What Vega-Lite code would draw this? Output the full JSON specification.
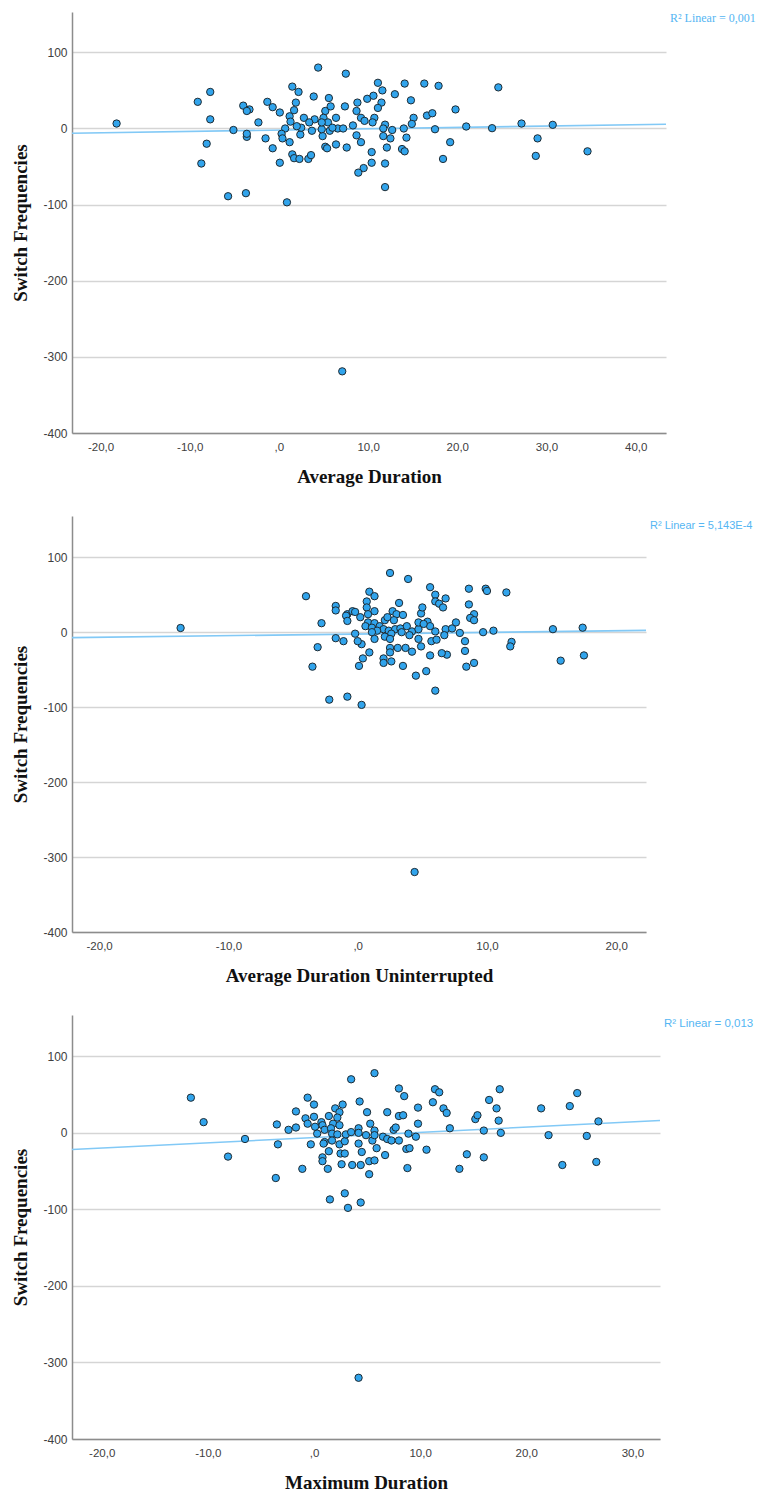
{
  "$schema": "https://vega.github.io/schema/vega-lite/v6.json",
  "padding": {"left": 11, "top": 12, "right": 0, "bottom": 0},
  "spacing": 29,
  "config": {
    "view": {"stroke": null},
    "font": "Liberation Sans",
    "axis": {
      "domainColor": "#8c8c8c",
      "domainWidth": 1.5,
      "ticks": false,
      "tickSize": 0,
      "labelColor": "#404040",
      "labelFont": "Liberation Sans",
      "labelFontSize": 12,
      "titleFont": "Liberation Serif",
      "titleFontWeight": "bold",
      "titleFontSize": 19,
      "titleColor": "#111111",
      "gridColor": "#d5d5d5",
      "gridWidth": 1.6
    },
    "axisX": {"grid": false, "labelPadding": 8, "titlePadding": 15, "labelFontSize": 11.5, "labelFlush": false},
    "axisY": {"grid": true, "labelPadding": 5, "titlePadding": 12, "labelFlush": false},
    "circle": {"size": 54, "fill": "#31a4ec", "stroke": "#1e2b33", "strokeWidth": 1, "opacity": 1},
    "line": {"color": "#82c9f6", "strokeWidth": 1.6},
    "text": {"color": "#55b6f3", "align": "left", "baseline": "middle", "dx": 4}
  },
  "datasets": {
    "avg": [
      {"duration": 4.4, "switches": 80}, {"duration": 7.5, "switches": 72}, {"duration": 1.5, "switches": 55}, {"duration": 2.2, "switches": 48},
      {"duration": -7.7, "switches": 48}, {"duration": -9.1, "switches": 35}, {"duration": -4.0, "switches": 30}, {"duration": -3.3, "switches": 25},
      {"duration": -3.6, "switches": 23}, {"duration": -1.3, "switches": 35}, {"duration": -0.7, "switches": 28}, {"duration": 0.1, "switches": 21},
      {"duration": 1.9, "switches": 34}, {"duration": 1.7, "switches": 24}, {"duration": 1.2, "switches": 16}, {"duration": 1.3, "switches": 9},
      {"duration": 2.8, "switches": 14}, {"duration": 3.9, "switches": 42}, {"duration": 5.6, "switches": 40}, {"duration": 5.2, "switches": 23},
      {"duration": 5.8, "switches": 29}, {"duration": 5.0, "switches": 14}, {"duration": 4.0, "switches": 12}, {"duration": 3.4, "switches": 8},
      {"duration": 5.5, "switches": 8}, {"duration": 6.4, "switches": 14}, {"duration": 7.4, "switches": 29}, {"duration": 8.8, "switches": 34},
      {"duration": 8.7, "switches": 23}, {"duration": 9.2, "switches": 14}, {"duration": 9.9, "switches": 39}, {"duration": 10.6, "switches": 43},
      {"duration": 11.1, "switches": 60}, {"duration": 11.6, "switches": 50}, {"duration": 11.5, "switches": 34}, {"duration": 11.1, "switches": 27},
      {"duration": 10.7, "switches": 14}, {"duration": 9.6, "switches": 10}, {"duration": 10.5, "switches": 8}, {"duration": 8.3, "switches": 4},
      {"duration": 13.0, "switches": 45}, {"duration": 14.1, "switches": 59}, {"duration": 14.8, "switches": 37}, {"duration": 16.3, "switches": 59},
      {"duration": 17.9, "switches": 56}, {"duration": 15.1, "switches": 14}, {"duration": 16.6, "switches": 17}, {"duration": 17.2, "switches": 20},
      {"duration": 14.9, "switches": 6}, {"duration": 14.0, "switches": 0}, {"duration": 17.5, "switches": -1}, {"duration": 19.8, "switches": 25},
      {"duration": 11.9, "switches": 5}, {"duration": 11.7, "switches": 0}, {"duration": 12.7, "switches": -2}, {"duration": 11.7, "switches": -10},
      {"duration": 12.5, "switches": -13}, {"duration": 14.3, "switches": -12}, {"duration": 12.1, "switches": -25}, {"duration": 13.8, "switches": -27},
      {"duration": 14.1, "switches": -30}, {"duration": 10.4, "switches": -31}, {"duration": 10.4, "switches": -45}, {"duration": 11.9, "switches": -46},
      {"duration": 9.5, "switches": -52}, {"duration": 8.9, "switches": -58}, {"duration": 11.9, "switches": -77}, {"duration": 19.2, "switches": -18},
      {"duration": 18.4, "switches": -40}, {"duration": 8.7, "switches": -9}, {"duration": 9.2, "switches": -18}, {"duration": 7.6, "switches": -25},
      {"duration": 6.4, "switches": -21}, {"duration": 5.2, "switches": -24}, {"duration": 5.4, "switches": -26}, {"duration": 4.9, "switches": -10},
      {"duration": 5.7, "switches": -3}, {"duration": 6.6, "switches": 0}, {"duration": 7.2, "switches": 0}, {"duration": 4.8, "switches": -1},
      {"duration": 3.7, "switches": -3}, {"duration": 2.4, "switches": -8}, {"duration": 2.5, "switches": 1}, {"duration": 2.0, "switches": 3},
      {"duration": 0.7, "switches": 0}, {"duration": 0.3, "switches": -7}, {"duration": 0.4, "switches": -13}, {"duration": 1.2, "switches": -18},
      {"duration": 1.5, "switches": -34}, {"duration": 1.7, "switches": -39}, {"duration": 2.3, "switches": -40}, {"duration": 3.3, "switches": -40},
      {"duration": 3.6, "switches": -35}, {"duration": 0.1, "switches": -45}, {"duration": -0.7, "switches": -26}, {"duration": -1.5, "switches": -13},
      {"duration": -2.3, "switches": 8}, {"duration": -3.6, "switches": -11}, {"duration": -3.6, "switches": -7}, {"duration": -5.1, "switches": -2},
      {"duration": -7.7, "switches": 12}, {"duration": -8.1, "switches": -20}, {"duration": -8.7, "switches": -46}, {"duration": -5.7, "switches": -89},
      {"duration": -3.7, "switches": -85}, {"duration": 0.9, "switches": -97}, {"duration": 4.8, "switches": 8}, {"duration": 6.0, "switches": 1},
      {"duration": 21.0, "switches": 2.6}, {"duration": 23.9, "switches": 0.4}, {"duration": 27.2, "switches": 6.5}, {"duration": 30.7, "switches": 4.8},
      {"duration": 29.0, "switches": -13}, {"duration": 28.8, "switches": -36}, {"duration": 34.6, "switches": -30}, {"duration": 24.6, "switches": 54},
      {"duration": -18.2, "switches": 6.5}, {"duration": 7.1, "switches": -319}
    ],
    "uninterrupted": [
      {"duration": 2.5, "switches": 79}, {"duration": 3.9, "switches": 71}, {"duration": -4.0, "switches": 48}, {"duration": 0.9, "switches": 54},
      {"duration": 1.3, "switches": 48}, {"duration": 0.7, "switches": 41}, {"duration": 0.7, "switches": 33}, {"duration": -1.7, "switches": 35},
      {"duration": -1.7, "switches": 29}, {"duration": -0.8, "switches": 24}, {"duration": -0.9, "switches": 22}, {"duration": -0.4, "switches": 28},
      {"duration": -0.2, "switches": 27}, {"duration": -0.8, "switches": 15}, {"duration": 0.2, "switches": 20}, {"duration": 0.8, "switches": 24},
      {"duration": 1.3, "switches": 28}, {"duration": -2.8, "switches": 12}, {"duration": 0.8, "switches": 13}, {"duration": 1.3, "switches": 12},
      {"duration": 0.6, "switches": 8}, {"duration": 1.1, "switches": 6}, {"duration": 1.7, "switches": 8}, {"duration": 2.1, "switches": 16},
      {"duration": 2.7, "switches": 28}, {"duration": 3.2, "switches": 39}, {"duration": 3.0, "switches": 24}, {"duration": 3.5, "switches": 23},
      {"duration": 2.3, "switches": 20}, {"duration": 2.8, "switches": 16}, {"duration": 2.0, "switches": 4}, {"duration": 2.4, "switches": 2},
      {"duration": 2.9, "switches": 4}, {"duration": 3.3, "switches": 5}, {"duration": 3.8, "switches": 8}, {"duration": 3.4, "switches": 0},
      {"duration": 2.6, "switches": -2}, {"duration": 2.1, "switches": -6}, {"duration": 2.5, "switches": -9}, {"duration": 4.2, "switches": 1},
      {"duration": 4.7, "switches": 4}, {"duration": 4.7, "switches": 13}, {"duration": 4.9, "switches": 25}, {"duration": 5.0, "switches": 33},
      {"duration": 5.6, "switches": 60}, {"duration": 6.0, "switches": 50}, {"duration": 6.0, "switches": 41}, {"duration": 6.3, "switches": 38},
      {"duration": 6.6, "switches": 33}, {"duration": 6.8, "switches": 45}, {"duration": 5.4, "switches": 14}, {"duration": 5.6, "switches": 8},
      {"duration": 5.1, "switches": 11}, {"duration": 6.0, "switches": 1}, {"duration": 6.8, "switches": 4}, {"duration": 6.7, "switches": -4},
      {"duration": 7.3, "switches": 5}, {"duration": 7.6, "switches": 13}, {"duration": 7.9, "switches": -1}, {"duration": 8.6, "switches": 58},
      {"duration": 8.6, "switches": 37}, {"duration": 9.0, "switches": 24}, {"duration": 8.7, "switches": 19}, {"duration": 9.0, "switches": 16},
      {"duration": 9.9, "switches": 58}, {"duration": 10.0, "switches": 55}, {"duration": 11.5, "switches": 53}, {"duration": 9.7, "switches": 0},
      {"duration": 10.5, "switches": 2}, {"duration": 15.1, "switches": 4}, {"duration": 11.9, "switches": -13}, {"duration": 11.8, "switches": -19},
      {"duration": 8.3, "switches": -12}, {"duration": 8.3, "switches": -25}, {"duration": 9.0, "switches": -41}, {"duration": 8.4, "switches": -46},
      {"duration": 6.9, "switches": -30}, {"duration": 6.5, "switches": -28}, {"duration": 5.6, "switches": -31}, {"duration": 5.7, "switches": -12},
      {"duration": 6.1, "switches": -10}, {"duration": 4.9, "switches": -19}, {"duration": 4.7, "switches": -9}, {"duration": 4.2, "switches": -26},
      {"duration": 3.7, "switches": -21}, {"duration": 3.1, "switches": -21}, {"duration": 2.5, "switches": -21}, {"duration": 2.5, "switches": -27},
      {"duration": 2.6, "switches": -39}, {"duration": 2.0, "switches": -35}, {"duration": 2.0, "switches": -41}, {"duration": 3.5, "switches": -45},
      {"duration": 4.5, "switches": -58}, {"duration": 5.3, "switches": -52}, {"duration": 6.0, "switches": -78}, {"duration": 0.9, "switches": -27},
      {"duration": 0.4, "switches": -35}, {"duration": 0.1, "switches": -45}, {"duration": 0.3, "switches": -16}, {"duration": 0.0, "switches": -12},
      {"duration": -0.2, "switches": -2}, {"duration": 1.3, "switches": -9}, {"duration": -1.1, "switches": -12}, {"duration": -1.7, "switches": -8},
      {"duration": -3.1, "switches": -20}, {"duration": -3.5, "switches": -46}, {"duration": -2.2, "switches": -90}, {"duration": -0.8, "switches": -86},
      {"duration": 0.3, "switches": -97}, {"duration": 15.7, "switches": -38}, {"duration": 17.4, "switches": 6}, {"duration": 17.5, "switches": -31},
      {"duration": -13.7, "switches": 5.6}, {"duration": 1.5, "switches": 2}, {"duration": 1.1, "switches": 0}, {"duration": 4.0, "switches": -4},
      {"duration": 4.4, "switches": -320}
    ],
    "maximum": [
      {"duration": 5.7, "switches": 78}, {"duration": 3.5, "switches": 70}, {"duration": -11.6, "switches": 46}, {"duration": -10.4, "switches": 14},
      {"duration": -6.5, "switches": -8}, {"duration": -8.1, "switches": -31}, {"duration": -3.5, "switches": 11}, {"duration": -3.4, "switches": -15},
      {"duration": -3.6, "switches": -59}, {"duration": -2.4, "switches": 4}, {"duration": -1.7, "switches": 7}, {"duration": -1.7, "switches": 28},
      {"duration": -0.6, "switches": 46}, {"duration": 0.0, "switches": 37}, {"duration": -0.8, "switches": 19}, {"duration": -0.6, "switches": 12},
      {"duration": 0.0, "switches": 21}, {"duration": -0.3, "switches": -15}, {"duration": -1.1, "switches": -47}, {"duration": 0.7, "switches": 14},
      {"duration": 0.8, "switches": 10}, {"duration": 0.1, "switches": 8}, {"duration": 0.3, "switches": -1}, {"duration": 1.0, "switches": 4},
      {"duration": 1.4, "switches": 22}, {"duration": 2.0, "switches": 32}, {"duration": 2.4, "switches": 27}, {"duration": 2.7, "switches": 37},
      {"duration": 2.2, "switches": 20}, {"duration": 1.8, "switches": 12}, {"duration": 2.4, "switches": 10}, {"duration": 1.6, "switches": 6},
      {"duration": 1.7, "switches": -1}, {"duration": 1.0, "switches": -12}, {"duration": 0.9, "switches": -14}, {"duration": 1.7, "switches": -10},
      {"duration": 2.4, "switches": -15}, {"duration": 2.9, "switches": -11}, {"duration": 2.2, "switches": -2}, {"duration": 3.0, "switches": -2},
      {"duration": 1.4, "switches": -24}, {"duration": 0.8, "switches": -32}, {"duration": 0.8, "switches": -37}, {"duration": 1.3, "switches": -47},
      {"duration": 2.5, "switches": -27}, {"duration": 2.9, "switches": -27}, {"duration": 2.6, "switches": -41}, {"duration": 1.5, "switches": -87},
      {"duration": 2.9, "switches": -79}, {"duration": 3.2, "switches": -98}, {"duration": 4.4, "switches": -91}, {"duration": 3.6, "switches": -42},
      {"duration": 4.4, "switches": -42}, {"duration": 4.5, "switches": -25}, {"duration": 4.2, "switches": -14}, {"duration": 4.2, "switches": 6},
      {"duration": 4.2, "switches": 0}, {"duration": 4.3, "switches": 41}, {"duration": 5.0, "switches": 27}, {"duration": 5.3, "switches": 12},
      {"duration": 4.9, "switches": -3}, {"duration": 5.5, "switches": -10}, {"duration": 5.7, "switches": 3}, {"duration": 5.7, "switches": -3},
      {"duration": 5.9, "switches": -20}, {"duration": 5.2, "switches": -37}, {"duration": 5.7, "switches": -36}, {"duration": 5.2, "switches": -54},
      {"duration": 6.7, "switches": -29}, {"duration": 6.5, "switches": -5}, {"duration": 6.9, "switches": -8}, {"duration": 7.3, "switches": -10},
      {"duration": 8.0, "switches": -10}, {"duration": 6.9, "switches": 27}, {"duration": 7.5, "switches": 4}, {"duration": 7.7, "switches": 7},
      {"duration": 8.0, "switches": 22}, {"duration": 8.4, "switches": 23}, {"duration": 8.0, "switches": 58}, {"duration": 8.5, "switches": 48},
      {"duration": 8.9, "switches": -1}, {"duration": 9.6, "switches": -5}, {"duration": 9.8, "switches": 33}, {"duration": 9.8, "switches": 12},
      {"duration": 8.7, "switches": -21}, {"duration": 9.0, "switches": -20}, {"duration": 8.8, "switches": -46}, {"duration": 10.6, "switches": -22},
      {"duration": 11.2, "switches": 40}, {"duration": 11.4, "switches": 57}, {"duration": 11.8, "switches": 53}, {"duration": 12.2, "switches": 32},
      {"duration": 12.5, "switches": 26}, {"duration": 12.8, "switches": 6}, {"duration": 3.5, "switches": 1}, {"duration": 14.4, "switches": -28},
      {"duration": 13.7, "switches": -47}, {"duration": 15.2, "switches": 18}, {"duration": 15.4, "switches": 23}, {"duration": 16.0, "switches": 3},
      {"duration": 16.0, "switches": -32}, {"duration": 16.5, "switches": 43}, {"duration": 17.2, "switches": 32}, {"duration": 17.4, "switches": 16},
      {"duration": 17.5, "switches": 57}, {"duration": 17.6, "switches": 0}, {"duration": 21.4, "switches": 32}, {"duration": 22.1, "switches": -3},
      {"duration": 23.4, "switches": -42}, {"duration": 24.1, "switches": 35}, {"duration": 24.8, "switches": 52}, {"duration": 25.7, "switches": -4},
      {"duration": 26.6, "switches": -38}, {"duration": 26.8, "switches": 15}, {"duration": 4.2, "switches": -320}
    ],
    "fit_avg": [{"duration": -23.2, "switches": -6.2}, {"duration": 43.4, "switches": 5.6}],
    "fit_uninterrupted": [{"duration": -22.1, "switches": -7.3}, {"duration": 22.3, "switches": 2.4}],
    "fit_maximum": [{"duration": -22.8, "switches": -21.8}, {"duration": 32.6, "switches": 16.1}]
  },
  "vconcat": [
    {
      "width": 594,
      "height": 421,
      "layer": [
        {
          "data": {"name": "fit_avg"},
          "mark": "line",
          "encoding": {
            "x": {"field": "duration", "type": "quantitative", "scale": {"domain": [-23.2, 43.4], "nice": false, "zero": false},
                  "axis": {"title": "Average Duration", "values": [-20, -10, 0, 10, 20, 30, 40], "labelExpr": "datum.value == 0 ? ',0' : datum.value + ',0'"}},
            "y": {"field": "switches", "type": "quantitative", "scale": {"domain": [-400, 153], "nice": false, "zero": false},
                  "axis": {"title": "Switch Frequencies", "values": [-400, -300, -200, -100, 0, 100], "labelExpr": "datum.value + ''"}}
          }
        },
        {
          "data": {"name": "avg"},
          "mark": "circle",
          "encoding": {
            "x": {"field": "duration", "type": "quantitative"},
            "y": {"field": "switches", "type": "quantitative"}
          }
        },
        {
          "data": {"values": [{"r2": "R² Linear = 0,001"}]},
          "mark": {"type": "text", "dy": 6, "font": "Liberation Serif", "fontSize": 12},
          "encoding": {
            "x": {"datum": 43.4, "type": "quantitative"},
            "y": {"datum": 153, "type": "quantitative"},
            "text": {"field": "r2", "type": "nominal"}
          }
        }
      ]
    },
    {
      "width": 574,
      "height": 416,
      "layer": [
        {
          "data": {"name": "fit_uninterrupted"},
          "mark": "line",
          "encoding": {
            "x": {"field": "duration", "type": "quantitative", "scale": {"domain": [-22.1, 22.3], "nice": false, "zero": false},
                  "axis": {"title": "Average Duration Uninterrupted", "values": [-20, -10, 0, 10, 20], "labelExpr": "datum.value == 0 ? ',0' : datum.value + ',0'"}},
            "y": {"field": "switches", "type": "quantitative", "scale": {"domain": [-400, 155], "nice": false, "zero": false},
                  "axis": {"title": "Switch Frequencies", "values": [-400, -300, -200, -100, 0, 100], "labelExpr": "datum.value + ''"}}
          }
        },
        {
          "data": {"name": "uninterrupted"},
          "mark": "circle",
          "encoding": {
            "x": {"field": "duration", "type": "quantitative"},
            "y": {"field": "switches", "type": "quantitative"}
          }
        },
        {
          "data": {"values": [{"r2": "R² Linear = 5,143E-4"}]},
          "mark": {"type": "text", "dy": 10, "font": "Liberation Sans", "fontSize": 11},
          "encoding": {
            "x": {"datum": 22.3, "type": "quantitative"},
            "y": {"datum": 155, "type": "quantitative"},
            "text": {"field": "r2", "type": "nominal"}
          }
        }
      ]
    },
    {
      "width": 588,
      "height": 424,
      "layer": [
        {
          "data": {"name": "fit_maximum"},
          "mark": "line",
          "encoding": {
            "x": {"field": "duration", "type": "quantitative", "scale": {"domain": [-22.8, 32.6], "nice": false, "zero": false},
                  "axis": {"title": "Maximum Duration", "values": [-20, -10, 0, 10, 20, 30], "labelExpr": "datum.value == 0 ? ',0' : datum.value + ',0'"}},
            "y": {"field": "switches", "type": "quantitative", "scale": {"domain": [-400, 154], "nice": false, "zero": false},
                  "axis": {"title": "Switch Frequencies", "values": [-400, -300, -200, -100, 0, 100], "labelExpr": "datum.value + ''"}}
          }
        },
        {
          "data": {"name": "maximum"},
          "mark": "circle",
          "encoding": {
            "x": {"field": "duration", "type": "quantitative"},
            "y": {"field": "switches", "type": "quantitative"}
          }
        },
        {
          "data": {"values": [{"r2": "R² Linear = 0,013"}]},
          "mark": {"type": "text", "dy": 9, "font": "Liberation Sans", "fontSize": 11.5},
          "encoding": {
            "x": {"datum": 32.6, "type": "quantitative"},
            "y": {"datum": 154, "type": "quantitative"},
            "text": {"field": "r2", "type": "nominal"}
          }
        }
      ]
    }
  ]
}
